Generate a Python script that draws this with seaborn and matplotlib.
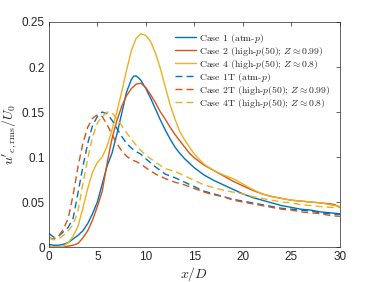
import numpy as np
import pandas as pd
import seaborn as sns
import matplotlib
matplotlib.use("Agg")
import matplotlib.pyplot as plt

# centreline u'_rms / U0 along x/D
x1 = [0, 0.5, 1, 1.5, 2, 2.5, 3, 3.5, 4, 4.5, 5, 5.5, 6, 6.5, 7, 7.5, 8, 8.5, 8.75, 9, 9.25, 9.5,
      10, 10.5, 11, 11.5, 12, 12.5, 13, 13.5, 14, 15, 16, 17, 18, 19, 20, 21, 22, 23, 24, 25, 26, 27, 28, 29, 30]
case1 = [0.003, 0.002, 0.002, 0.003, 0.005, 0.009, 0.013, 0.018, 0.026, 0.037, 0.050, 0.070, 0.090, 0.104,
         0.125, 0.148, 0.172, 0.186, 0.190, 0.190, 0.188, 0.185, 0.176, 0.165, 0.153, 0.141, 0.130, 0.120,
         0.111, 0.104, 0.098, 0.088, 0.080, 0.074, 0.069, 0.064, 0.059, 0.055, 0.052, 0.049, 0.046, 0.044,
         0.042, 0.041, 0.039, 0.038, 0.037]

x2 = [0, 0.5, 1, 1.5, 2, 2.5, 3, 3.5, 4, 4.5, 5, 5.5, 6, 6.5, 7, 7.5, 8, 8.5, 9, 9.5,
      10, 10.5, 11, 11.5, 12, 12.5, 13, 13.5, 14, 14.5, 15, 16, 17, 18, 19, 20, 21, 22, 23, 24, 25,
      26, 27, 28, 29, 29.5, 30]
case2 = [0.001, 0.0, 0.0, 0.0, 0.001, 0.002, 0.004, 0.010, 0.018, 0.030, 0.045, 0.062, 0.093, 0.120,
         0.140, 0.156, 0.168, 0.176, 0.181, 0.182, 0.177, 0.169, 0.160, 0.150, 0.142, 0.133, 0.125, 0.118,
         0.111, 0.104, 0.099, 0.091, 0.085, 0.079, 0.073, 0.068, 0.063, 0.059, 0.056, 0.054, 0.052,
         0.051, 0.050, 0.049, 0.048, 0.047, 0.044]

x4 = [0, 0.5, 1, 1.5, 2, 2.5, 3, 3.5, 4, 4.5, 5, 5.5, 6, 6.5, 7, 7.5, 8, 8.5, 9, 9.5,
      10, 10.5, 11, 11.5, 12, 12.5, 13, 13.5, 14, 14.5, 15, 16, 17, 18, 19, 20, 21, 22, 23, 24, 25,
      26, 27, 28, 29, 30]
case4 = [0.001, 0.0, 0.0, 0.001, 0.005, 0.012, 0.023, 0.043, 0.065, 0.083, 0.094, 0.100, 0.112, 0.130,
         0.150, 0.172, 0.196, 0.218, 0.232, 0.237, 0.235, 0.228, 0.215, 0.198, 0.178, 0.158, 0.142, 0.128,
         0.119, 0.111, 0.103, 0.092, 0.085, 0.080, 0.076, 0.070, 0.064, 0.059, 0.056, 0.054, 0.052,
         0.051, 0.050, 0.049, 0.047, 0.045]

x1t = [0, 0.5, 1, 1.5, 2, 2.5, 3, 3.5, 4, 4.5, 5, 5.5, 6, 6.5, 7, 7.5, 8, 8.5, 9, 9.5,
       10, 11, 12, 13, 14, 15, 16, 17, 18, 19, 20, 21, 22, 23, 24, 25, 26, 27, 28, 29, 30]
case1t = [0.015, 0.011, 0.012, 0.017, 0.022, 0.032, 0.060, 0.089, 0.115, 0.135, 0.145, 0.150, 0.148,
          0.141, 0.132, 0.123, 0.115, 0.110, 0.106, 0.103, 0.098, 0.089, 0.081, 0.077, 0.072, 0.067,
          0.062, 0.059, 0.056, 0.053, 0.051, 0.049, 0.047, 0.045, 0.043, 0.042, 0.041, 0.040, 0.038,
          0.037, 0.036]

x2t = [0, 0.5, 1, 1.5, 2, 2.5, 3, 3.5, 4, 4.5, 5, 5.5, 6, 6.5, 7, 7.5, 8, 8.5, 9, 9.5,
       10, 11, 12, 13, 14, 15, 16, 17, 18, 19, 20, 21, 22, 23, 24, 25, 26, 27, 28, 29, 30]
case2t = [0.010, 0.009, 0.012, 0.020, 0.032, 0.058, 0.089, 0.115, 0.133, 0.143, 0.147, 0.145, 0.136,
          0.125, 0.115, 0.107, 0.101, 0.097, 0.095, 0.092, 0.088, 0.081, 0.076, 0.072, 0.069, 0.065,
          0.061, 0.058, 0.056, 0.052, 0.050, 0.048, 0.046, 0.044, 0.042, 0.041, 0.039, 0.038, 0.037,
          0.035, 0.034]

x4t = [0, 0.5, 1, 1.5, 2, 2.5, 3, 3.5, 4, 4.5, 5, 5.5, 6, 6.5, 7, 7.5, 8, 8.5, 9, 9.5,
       10, 11, 12, 13, 14, 15, 16, 17, 18, 19, 20, 21, 22, 23, 24, 25, 26, 27, 28, 29, 30]
case4t = [0.010, 0.008, 0.009, 0.013, 0.018, 0.025, 0.040, 0.070, 0.098, 0.122, 0.138, 0.145, 0.150,
          0.149, 0.143, 0.135, 0.127, 0.120, 0.113, 0.107, 0.102, 0.094, 0.087, 0.084, 0.079, 0.074,
          0.069, 0.066, 0.063, 0.061, 0.059, 0.056, 0.054, 0.052, 0.050, 0.049, 0.047, 0.046, 0.045,
          0.044, 0.044]

labels = ["Case 1 (atm-$p$)",
          "Case 2 (high-$p$(50); $Z \\approx 0.99$)",
          "Case 4 (high-$p$(50); $Z \\approx 0.8$)",
          "Case 1T (atm-$p$)",
          "Case 2T (high-$p$(50); $Z \\approx 0.99$)",
          "Case 4T (high-$p$(50); $Z \\approx 0.8$)"]

sns.set_style("white")
plt.rcParams['font.family'] = ['Liberation Sans', 'DejaVu Sans']
plt.rcParams['mathtext.fontset'] = 'cm'

blue, red, yellow = "#0072BD", "#D95319", "#EDB120"
dash = (0, (5, 3))
series = [(x1, case1, blue, "-"), (x2, case2, red, "-"), (x4, case4, yellow, "-"),
          (x1t, case1t, blue, dash), (x2t, case2t, red, dash), (x4t, case4t, yellow, dash)]

fig = plt.figure(figsize=(3.76, 2.82), dpi=100)
ax = fig.add_axes([0.130, 0.124, 0.774, 0.798])

for (xs, ys, c, ls), lab in zip(series, labels):
    sns.lineplot(x=xs, y=ys, ax=ax, color=c, linewidth=1.0, label=lab)
    ax.lines[-1].set_linestyle(ls)

ax.set_xlim(0, 30)
ax.set_ylim(0, 0.25)
ax.set_xticks([0, 5, 10, 15, 20, 25, 30])
ax.set_yticks([0, 0.05, 0.1, 0.15, 0.2, 0.25])
ax.set_yticklabels(["0", "0.05", "0.1", "0.15", "0.2", "0.25"])
ax.tick_params(direction="in", length=3, width=0.5, labelsize=8.5, colors="#262626",
               top=True, right=True, pad=3)
for s in ax.spines.values():
    s.set_color("#262626")
    s.set_linewidth(0.5)
ax.set_xlabel("$x/D$", fontsize=10, labelpad=1)
ax.set_ylabel("$u'_{c,\\mathrm{rms}}/U_0$", fontsize=10, labelpad=2)

leg = ax.legend(loc="upper right", bbox_to_anchor=(0.98, 0.975), frameon=False,
                handlelength=2.1, handletextpad=0.3, labelspacing=0.0, borderaxespad=0.0,
                prop={"family": "cmr10", "size": 7})
for h, (_, _, c, ls) in zip(leg.get_lines(), series):
    h.set_linestyle(ls)

fig.savefig("out.png", dpi=100)
